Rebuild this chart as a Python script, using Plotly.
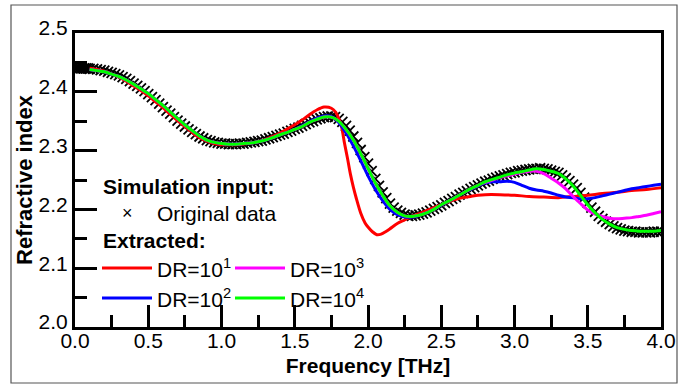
import plotly.graph_objects as go

# ---------------- data ----------------
orig_f = [0.0, 0.0125, 0.025, 0.0375, 0.05, 0.0625, 0.075, 0.0875, 0.1, 0.125, 0.15, 0.175, 0.2, 0.225, 0.25, 0.275,
          0.3, 0.325, 0.35, 0.375, 0.4, 0.425, 0.45, 0.475, 0.5, 0.525, 0.55, 0.575, 0.6, 0.625, 0.65, 0.675,
          0.7, 0.725, 0.75, 0.775, 0.8, 0.825, 0.85, 0.875, 0.9, 0.925, 0.95, 0.975, 1.0, 1.025, 1.05, 1.075,
          1.1, 1.125, 1.15, 1.175, 1.2, 1.225, 1.25, 1.275, 1.3, 1.325, 1.35, 1.375, 1.4, 1.425, 1.45, 1.475,
          1.5, 1.525, 1.55, 1.575, 1.6, 1.625, 1.65, 1.675, 1.7, 1.725, 1.75, 1.775, 1.8, 1.825, 1.85, 1.875,
          1.9, 1.925, 1.95, 1.975, 2.0, 2.025, 2.05, 2.075, 2.1, 2.125, 2.15, 2.175, 2.2, 2.225, 2.25, 2.275,
          2.3, 2.325, 2.35, 2.375, 2.4, 2.425, 2.45, 2.475, 2.5, 2.525, 2.55, 2.575, 2.6, 2.625, 2.65, 2.675,
          2.7, 2.725, 2.75, 2.775, 2.8, 2.825, 2.85, 2.875, 2.9, 2.925, 2.95, 2.975, 3.0, 3.025, 3.05, 3.075,
          3.1, 3.125, 3.15, 3.175, 3.2, 3.225, 3.25, 3.275, 3.3, 3.325, 3.35, 3.375, 3.4, 3.425, 3.45, 3.475,
          3.5, 3.525, 3.55, 3.575, 3.6, 3.625, 3.65, 3.675, 3.7, 3.725, 3.75, 3.775, 3.8, 3.825, 3.85, 3.875,
          3.9, 3.925, 3.95, 3.975, 4.0]
orig_n = [2.440, 2.440, 2.440, 2.440, 2.440, 2.440, 2.440, 2.440, 2.439, 2.439, 2.438, 2.437, 2.436, 2.434, 2.432, 2.430,
          2.428, 2.425, 2.422, 2.418, 2.414, 2.410, 2.406, 2.401, 2.396, 2.391, 2.386, 2.380, 2.374, 2.368, 2.363, 2.357,
          2.351, 2.346, 2.341, 2.336, 2.332, 2.328, 2.324, 2.321, 2.318, 2.316, 2.314, 2.313, 2.312, 2.312, 2.311, 2.311,
          2.311, 2.312, 2.312, 2.313, 2.314, 2.315, 2.316, 2.317, 2.319, 2.321, 2.323, 2.325, 2.327, 2.329, 2.332, 2.334,
          2.337, 2.339, 2.342, 2.345, 2.348, 2.350, 2.353, 2.355, 2.357, 2.358, 2.358, 2.357, 2.354, 2.349, 2.342, 2.334,
          2.324, 2.313, 2.301, 2.289, 2.278, 2.265, 2.252, 2.240, 2.229, 2.219, 2.210, 2.203, 2.198, 2.194, 2.191, 2.189,
          2.189, 2.190, 2.191, 2.193, 2.195, 2.198, 2.201, 2.204, 2.207, 2.211, 2.214, 2.218, 2.221, 2.225, 2.228, 2.231,
          2.235, 2.238, 2.241, 2.244, 2.247, 2.249, 2.252, 2.254, 2.256, 2.258, 2.260, 2.262, 2.263, 2.265, 2.266, 2.267,
          2.268, 2.269, 2.269, 2.270, 2.269, 2.268, 2.266, 2.264, 2.262, 2.258, 2.253, 2.248, 2.242, 2.236, 2.228, 2.220,
          2.211, 2.203, 2.196, 2.189, 2.184, 2.179, 2.175, 2.171, 2.168, 2.166, 2.164, 2.163, 2.162, 2.162, 2.161, 2.161,
          2.161, 2.161, 2.162, 2.162, 2.162]

dr1_f = [0.1, 0.15, 0.2, 0.25, 0.3, 0.35, 0.4, 0.45, 0.5, 0.55, 0.6, 0.65, 0.7, 0.75, 0.8, 0.85, 0.9, 0.95, 1.0,
         1.05, 1.1, 1.15, 1.2, 1.25, 1.3, 1.35, 1.4, 1.45, 1.5, 1.55, 1.6, 1.65, 1.7, 1.75, 1.78, 1.8, 1.82, 1.84,
         1.86, 1.88, 1.9, 1.92, 1.95, 1.98, 2.0, 2.03, 2.06, 2.09, 2.12, 2.15, 2.2, 2.25, 2.3, 2.35, 2.4, 2.45, 2.5,
         2.55, 2.6, 2.65, 2.7, 2.75, 2.8, 2.9, 3.0, 3.1, 3.2, 3.3, 3.4, 3.5, 3.6, 3.7, 3.8, 3.9, 4.0]
dr1_n = [2.440, 2.438, 2.435, 2.430, 2.425, 2.418, 2.410, 2.402, 2.393, 2.383, 2.373, 2.362, 2.351, 2.341, 2.331,
         2.322, 2.316, 2.312, 2.310, 2.310, 2.310, 2.311, 2.313, 2.315, 2.319, 2.324, 2.330, 2.337, 2.344, 2.352,
         2.361, 2.369, 2.374, 2.372, 2.365, 2.355, 2.340, 2.312, 2.287, 2.260, 2.238, 2.219, 2.194, 2.177, 2.170,
         2.162, 2.157, 2.158, 2.162, 2.167, 2.176, 2.182, 2.188, 2.193, 2.198, 2.203, 2.208, 2.213, 2.217, 2.220,
         2.222, 2.224, 2.225, 2.225, 2.224, 2.222, 2.221, 2.220, 2.222, 2.224, 2.227, 2.229, 2.232, 2.234, 2.237]

base_f = [0.1, 0.15, 0.2, 0.25, 0.3, 0.35, 0.4, 0.45, 0.5, 0.55, 0.6, 0.65, 0.7, 0.75, 0.8, 0.85, 0.9, 0.95, 1.0,
          1.05, 1.1, 1.15, 1.2, 1.25, 1.3, 1.35, 1.4, 1.45, 1.5, 1.55, 1.6, 1.65, 1.7, 1.75, 1.8, 1.85, 1.9, 1.95,
          2.0, 2.05, 2.1, 2.15, 2.2, 2.25, 2.3, 2.35, 2.4, 2.45, 2.5, 2.55, 2.6, 2.65, 2.7, 2.75, 2.8, 2.85, 2.9,
          2.95, 3.0, 3.05, 3.1, 3.15, 3.2, 3.25, 3.3, 3.35, 3.4, 3.45, 3.5, 3.55, 3.6, 3.65, 3.7, 3.75, 3.8, 3.85,
          3.9, 3.95, 4.0]
dr4_n = [2.438, 2.436, 2.434, 2.430, 2.426, 2.420, 2.413, 2.405, 2.397, 2.387, 2.377, 2.366, 2.355, 2.344, 2.334,
         2.325, 2.318, 2.314, 2.312, 2.311, 2.311, 2.312, 2.313, 2.315, 2.318, 2.322, 2.327, 2.331, 2.336, 2.341,
         2.348, 2.353, 2.357, 2.357, 2.350, 2.336, 2.318, 2.295, 2.270, 2.245, 2.224, 2.206, 2.195, 2.189, 2.188,
         2.190, 2.194, 2.200, 2.208, 2.214, 2.221, 2.228, 2.235, 2.241, 2.247, 2.251, 2.255, 2.259, 2.262, 2.264,
         2.267, 2.269, 2.268, 2.265, 2.261, 2.252, 2.240, 2.224, 2.208, 2.194, 2.183, 2.175, 2.169, 2.166, 2.164,
         2.163, 2.163, 2.163, 2.164]
dr2_n = [2.438, 2.436, 2.434, 2.430, 2.426, 2.420, 2.413, 2.405, 2.397, 2.387, 2.377, 2.366, 2.355, 2.344, 2.334,
         2.325, 2.318, 2.314, 2.312, 2.311, 2.311, 2.312, 2.313, 2.315, 2.318, 2.322, 2.327, 2.331, 2.336, 2.342,
         2.349, 2.355, 2.359, 2.358, 2.348, 2.330, 2.308, 2.283, 2.257, 2.234, 2.215, 2.200, 2.191, 2.187, 2.187,
         2.190, 2.194, 2.200, 2.207, 2.214, 2.221, 2.228, 2.234, 2.240, 2.245, 2.247, 2.247, 2.248, 2.246, 2.241,
         2.236, 2.233, 2.231, 2.228, 2.224, 2.221, 2.220, 2.218, 2.218, 2.220, 2.223, 2.226, 2.229, 2.232, 2.235,
         2.237, 2.239, 2.241, 2.243]
dr3_n = [2.438, 2.436, 2.434, 2.430, 2.426, 2.420, 2.413, 2.405, 2.397, 2.387, 2.377, 2.366, 2.355, 2.344, 2.334,
         2.325, 2.318, 2.314, 2.312, 2.311, 2.311, 2.312, 2.313, 2.315, 2.318, 2.322, 2.327, 2.331, 2.336, 2.341,
         2.348, 2.353, 2.357, 2.357, 2.350, 2.336, 2.318, 2.295, 2.270, 2.245, 2.224, 2.206, 2.195, 2.189, 2.188,
         2.190, 2.194, 2.200, 2.208, 2.214, 2.221, 2.228, 2.235, 2.241, 2.246, 2.250, 2.254, 2.257, 2.260, 2.263,
         2.265, 2.265, 2.261, 2.253, 2.245, 2.235, 2.222, 2.210, 2.199, 2.192, 2.188, 2.185, 2.184, 2.185, 2.186,
         2.188, 2.190, 2.193, 2.196]

x_ticks = [0.0, 0.5, 1.0, 1.5, 2.0, 2.5, 3.0, 3.5, 4.0]
y_ticks = [2.0, 2.1, 2.2, 2.3, 2.4, 2.5]
series_labels = ["DR=10<sup>1</sup>", "DR=10<sup>2</sup>", "DR=10<sup>3</sup>", "DR=10<sup>4</sup>"]
series_colors = ["#ff0000", "#0000ff", "#ff00ff", "#00ff00"]

FONT = "Liberation Sans, Arial, sans-serif"

fig = go.Figure()
fig.add_trace(go.Scatter(x=orig_f, y=orig_n, mode="markers", name="Original data",
                         marker=dict(symbol="x-thin", size=10, color="black",
                                     line=dict(color="black", width=1.8)),
                         showlegend=False))
for fx, ny, lab, col in [(dr1_f, dr1_n, series_labels[0], series_colors[0]),
                         (base_f, dr2_n, series_labels[1], series_colors[1]),
                         (base_f, dr3_n, series_labels[2], series_colors[2]),
                         (base_f, dr4_n, series_labels[3], series_colors[3])]:
    fig.add_trace(go.Scatter(x=fx, y=ny, mode="lines", name=lab, showlegend=False,
                             line=dict(color=col, width=3, shape="spline", smoothing=0.8)))

# plot area px: x 75..661, y 33..327
L, R, T, B = 75, 27, 33, 60
W, H = 688, 387
PW, PH = W - L - R, H - T - B
def px(x):
    return (x - L) / PW
def py(y):
    return (T + PH - y) / PH

shapes = [dict(type="rect", xref="paper", yref="paper", x0=px(11), x1=px(677), y0=py(5), y1=py(383),
               line=dict(color="#555555", width=1.2), layer="below")]
annotations = [
    dict(text="<b>Simulation input:</b>", x=px(101), y=py(186), xanchor="left", yanchor="middle"),
    dict(text="×", x=px(127), y=py(213), xanchor="center", yanchor="middle", size=18),
    dict(text="Original data", x=px(155), y=py(213), xanchor="left", yanchor="middle"),
    dict(text="<b>Extracted:</b>", x=px(101), y=py(240), xanchor="left", yanchor="middle"),
]
leg_pos = [(102, 268), (102, 298), (235, 268), (235, 298)]
for (lx, ly), lab, col in zip(leg_pos, series_labels, series_colors):
    shapes.append(dict(type="line", xref="paper", yref="paper", x0=px(lx), x1=px(lx + 50),
                       y0=py(ly), y1=py(ly), line=dict(color=col, width=3)))
    annotations.append(dict(text=lab, x=px(lx + 53), y=py(ly), xanchor="left", yanchor="middle"))

ann_objs = []
for a in annotations:
    size = a.pop("size", 21)
    ann_objs.append(dict(xref="paper", yref="paper", showarrow=False,
                         font=dict(family=FONT, size=size, color="black"), **a))

fig.update_layout(
    width=W, height=H, margin=dict(l=L, r=R, t=T, b=B),
    paper_bgcolor="white", plot_bgcolor="white",
    font=dict(family=FONT, size=21, color="black"),
    shapes=shapes, annotations=ann_objs,
    xaxis=dict(range=[0, 4], tickvals=x_ticks, tickformat=".1f", ticks="inside", ticklen=22, tickwidth=3,
               tickcolor="black", showline=True, linewidth=3, linecolor="black", mirror=True,
               showgrid=False, zeroline=False, automargin=False, ticklabelstandoff=-7,
               minor=dict(dtick=0.25, ticks="inside", ticklen=12, tickwidth=3, tickcolor="black", showgrid=False),
               title=dict(text="<b>Frequency [THz]</b>", font=dict(family=FONT, size=21), standoff=8),
               tickfont=dict(family=FONT, size=21)),
    yaxis=dict(range=[2.0, 2.5], tickvals=y_ticks, tickformat=".1f", ticks="inside", ticklen=22, tickwidth=3,
               tickcolor="black", showline=True, linewidth=3, linecolor="black", mirror=True,
               showgrid=False, zeroline=False, automargin=False, ticklabelshift=-5,
               minor=dict(dtick=0.05, ticks="inside", ticklen=12, tickwidth=3, tickcolor="black", showgrid=False),
               title=dict(text="<b>Refractive index</b>", font=dict(family=FONT, size=22), standoff=0),
               tickfont=dict(family=FONT, size=21)),
)

fig.write_html("out.html")
